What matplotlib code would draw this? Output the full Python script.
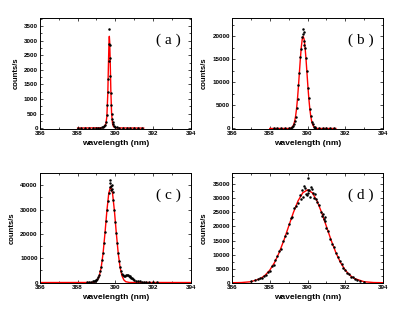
import matplotlib
matplotlib.use("Agg")
import matplotlib.pyplot as plt
from matplotlib.ticker import MultipleLocator, AutoMinorLocator

# ---- panel (a) ----
xa = [388.0, 388.2, 388.4, 388.6, 388.8, 389.0, 389.1, 389.2, 389.3, 389.35, 389.4,
      389.45, 389.5, 389.55, 389.58, 389.6, 389.62, 389.64, 389.66, 389.68, 389.7,
      389.72, 389.74, 389.76, 389.78, 389.8, 389.83, 389.86, 389.9, 389.95, 390.0,
      390.1, 390.2, 390.4, 390.6, 390.8, 391.0, 391.2, 391.4]
ya = [0, 5, 0, 8, 5, 10, 15, 20, 35, 50, 80,
      120, 200, 450, 800, 1250, 1700, 2300, 2900, 3400, 2850,
      2400, 1800, 1200, 800, 500, 300, 200, 130, 80, 50,
      30, 15, 10, 5, 0, 5, 0, 0]
fxa = [388.0, 389.3, 389.4, 389.5, 389.55, 389.6, 389.63, 389.66, 389.68, 389.7,
       389.73, 389.76, 389.8, 389.85, 389.9, 390.0, 390.1, 391.5]
fya = [0, 10, 30, 150, 400, 1200, 2100, 2900, 3150, 2950,
       2200, 1300, 500, 150, 50, 15, 5, 0]

# ---- panel (b) ----
xb = [388.2, 388.4, 388.6, 388.8, 389.0, 389.12, 389.17, 389.22, 389.27, 389.32,
      389.37, 389.42, 389.47, 389.52, 389.57, 389.62, 389.67, 389.72, 389.74, 389.77,
      389.8, 389.82, 389.84, 389.87, 389.92, 389.97, 390.02, 390.07, 390.12, 390.17,
      390.22, 390.27, 390.32, 390.37, 390.42, 390.6, 390.8, 391.0, 391.2, 391.4]
yb = [0, 10, 0, 20, 40, 150, 300, 500, 950, 1700,
      2600, 4500, 6300, 9400, 12000, 15600, 17300, 19800, 21500, 20600,
      20900, 19000, 18200, 17400, 15300, 12400, 8900, 6700, 4200, 2800,
      1500, 950, 400, 250, 100, 30, 10, 0, 10, 0]
fxb = [388.0, 388.97, 389.07, 389.17, 389.22, 389.27, 389.32, 389.37, 389.42, 389.47,
       389.52, 389.57, 389.62, 389.67, 389.72, 389.77, 389.82, 389.87, 389.92, 389.97,
       390.02, 390.07, 390.12, 390.17, 390.22, 390.27, 390.32, 390.37, 390.47, 390.57,
       391.5]
fyb = [0, 6, 44, 220, 460, 880, 1590, 2700, 4320, 6500,
       9160, 12140, 15100, 17640, 19380, 20000, 19380, 17640, 15100, 12140,
       9160, 6500, 4320, 2700, 1590, 880, 460, 220, 44, 6,
       0]

# ---- panel (c) ----
xc = [388.5, 388.6, 388.7, 388.8, 388.85, 388.9, 388.95, 389.0, 389.05, 389.1,
      389.15, 389.2, 389.25, 389.3, 389.35, 389.4, 389.45, 389.5, 389.55, 389.6,
      389.65, 389.7, 389.7, 389.72, 389.75, 389.75, 389.8, 389.8, 389.85, 389.9,
      389.95, 390.0, 390.05, 390.1, 390.15, 390.2, 390.25, 390.3, 390.35, 390.4,
      390.45, 390.5, 390.55, 390.6, 390.65, 390.7, 390.75, 390.8, 390.85, 390.9,
      390.95, 391.0, 391.1, 391.2, 391.3, 391.4, 391.5, 391.6, 391.8, 392.0, 392.2]
yc = [150, 250, 350, 450, 600, 750, 900, 1100, 1600, 2400,
      3300, 4700, 6500, 9200, 12300, 16200, 20600, 25200, 29800, 33600,
      36900, 39200, 41000, 42000, 39800, 38200, 40200, 38500, 37200, 33800,
      29600, 24900, 20500, 16100, 12300, 9000, 6500, 4600, 3500, 2900,
      2700, 2800, 3000, 3100, 2900, 2800, 2500, 2300, 2000, 1700,
      1400, 1100, 800, 600, 450, 350, 300, 250, 200, 120, 80]
fxc = [386.0, 388.75, 388.95, 389.05, 389.15, 389.25, 389.35, 389.45, 389.55, 389.65,
       389.75, 389.85, 389.95, 390.05, 390.15, 390.25, 390.35, 390.45, 390.55, 390.75,
       394.0]
fyc = [0, 24, 350, 1050, 2760, 6200, 12090, 20300, 29400, 36700,
       39500, 36700, 29400, 20300, 12090, 6200, 2760, 1050, 350, 24,
       0]

# ---- panel (d) ----
xd = [387.0, 387.2, 387.4, 387.5, 387.6, 387.7, 387.8, 387.9, 388.0, 388.1,
      388.2, 388.3, 388.4, 388.5, 388.6, 388.7, 388.8, 388.9, 389.0, 389.1,
      389.2, 389.3, 389.4, 389.5, 389.6, 389.65, 389.7, 389.75, 389.8, 389.85,
      389.9, 389.95, 390.0, 390.0, 390.05, 390.1, 390.15, 390.2, 390.25, 390.3,
      390.35, 390.4, 390.45, 390.5, 390.6, 390.7, 390.75, 390.8, 390.85, 390.9,
      390.95, 391.0, 391.1, 391.2, 391.3, 391.4, 391.5, 391.6, 391.7, 391.8,
      391.9, 392.0, 392.1, 392.2, 392.3, 392.4, 392.5, 392.6, 392.8, 393.0]
yd = [600, 900, 1300, 1600, 1750, 2500, 2800, 3900, 4300, 5800,
      6200, 8100, 9500, 11200, 12000, 14800, 16500, 17600, 20800, 22900,
      23200, 26400, 27200, 28400, 31000, 29800, 32800, 30500, 34200, 33500,
      31500, 31000, 37200, 33000, 31800, 32800, 30500, 34000, 33200, 32000,
      30200, 31400, 29600, 28600, 27800, 25200, 23800, 24500, 22600, 23500,
      21800, 19500, 18400, 15600, 13800, 12700, 10400, 9000, 7600, 6800,
      5200, 4600, 3500, 3100, 2200, 1900, 1400, 1100, 700, 400]
fxd = [386.0, 386.5, 387.0, 387.5, 387.75, 388.0, 388.25, 388.5, 388.75, 389.0,
       389.25, 389.5, 389.75, 390.0, 390.25, 390.5, 390.75, 391.0, 391.25, 391.5,
       391.75, 392.0, 392.25, 392.5, 393.0, 393.5, 394.0]
fyd = [10, 73, 360, 1450, 2630, 4460, 7130, 10730, 15110, 20030,
       24910, 29110, 31980, 33000, 31980, 29110, 24910, 20030, 15110, 10730,
       7130, 4460, 2630, 1450, 360, 73, 10]

panels = [
    ("( a )", xa, ya, fxa, fya, 500, (-30, 3780)),
    ("( b )", xb, yb, fxb, fyb, 5000, (-100, 24000)),
    ("( c )", xc, yc, fxc, fyc, 10000, (-200, 45000)),
    ("( d )", xd, yd, fxd, fyd, 5000, (-100, 39000)),
]
positions = [
    [0.096, 0.584, 0.364, 0.358],
    [0.559, 0.584, 0.364, 0.358],
    [0.096, 0.087, 0.364, 0.355],
    [0.559, 0.087, 0.364, 0.355],
]

fig = plt.figure(figsize=(4.15, 3.1), dpi=100)

for (label, x, y, fx, fy, ystep, ylim), pos in zip(panels, positions):
    ax = fig.add_axes(pos)
    ax.plot(fx, fy, color="red", lw=1.0, zorder=2)
    ax.plot(x, y, ls="none", marker="o", ms=0.8, color="black", zorder=3)
    ax.set_xlim(386, 394)
    ax.set_ylim(*ylim)
    ax.xaxis.set_major_locator(MultipleLocator(2))
    ax.xaxis.set_minor_locator(MultipleLocator(1))
    ax.yaxis.set_major_locator(MultipleLocator(ystep))
    ax.yaxis.set_minor_locator(AutoMinorLocator(2))
    ax.tick_params(which="both", direction="in", top=True, right=True,
                   labelsize=4.5, pad=1.5, width=0.5)
    ax.tick_params(which="major", length=2.5)
    ax.tick_params(which="minor", length=1.3)
    for t in ax.get_xticklabels() + ax.get_yticklabels():
        t.set_fontweight("bold")
        t.set_fontfamily("Liberation Sans")
    for s in ax.spines.values():
        s.set_linewidth(0.7)
    ax.set_xlabel("wavelength (nm)", fontsize=6, fontweight="bold",
                  family="Liberation Sans", labelpad=3)
    ax.set_ylabel("counts/s", fontsize=5.5, fontweight="bold",
                  family="Liberation Sans", labelpad=3)
    ax.text(0.85, 0.8, label, transform=ax.transAxes, ha="center", va="center",
            fontsize=11, family="Liberation Serif")

fig.savefig("out.png", dpi=100)
